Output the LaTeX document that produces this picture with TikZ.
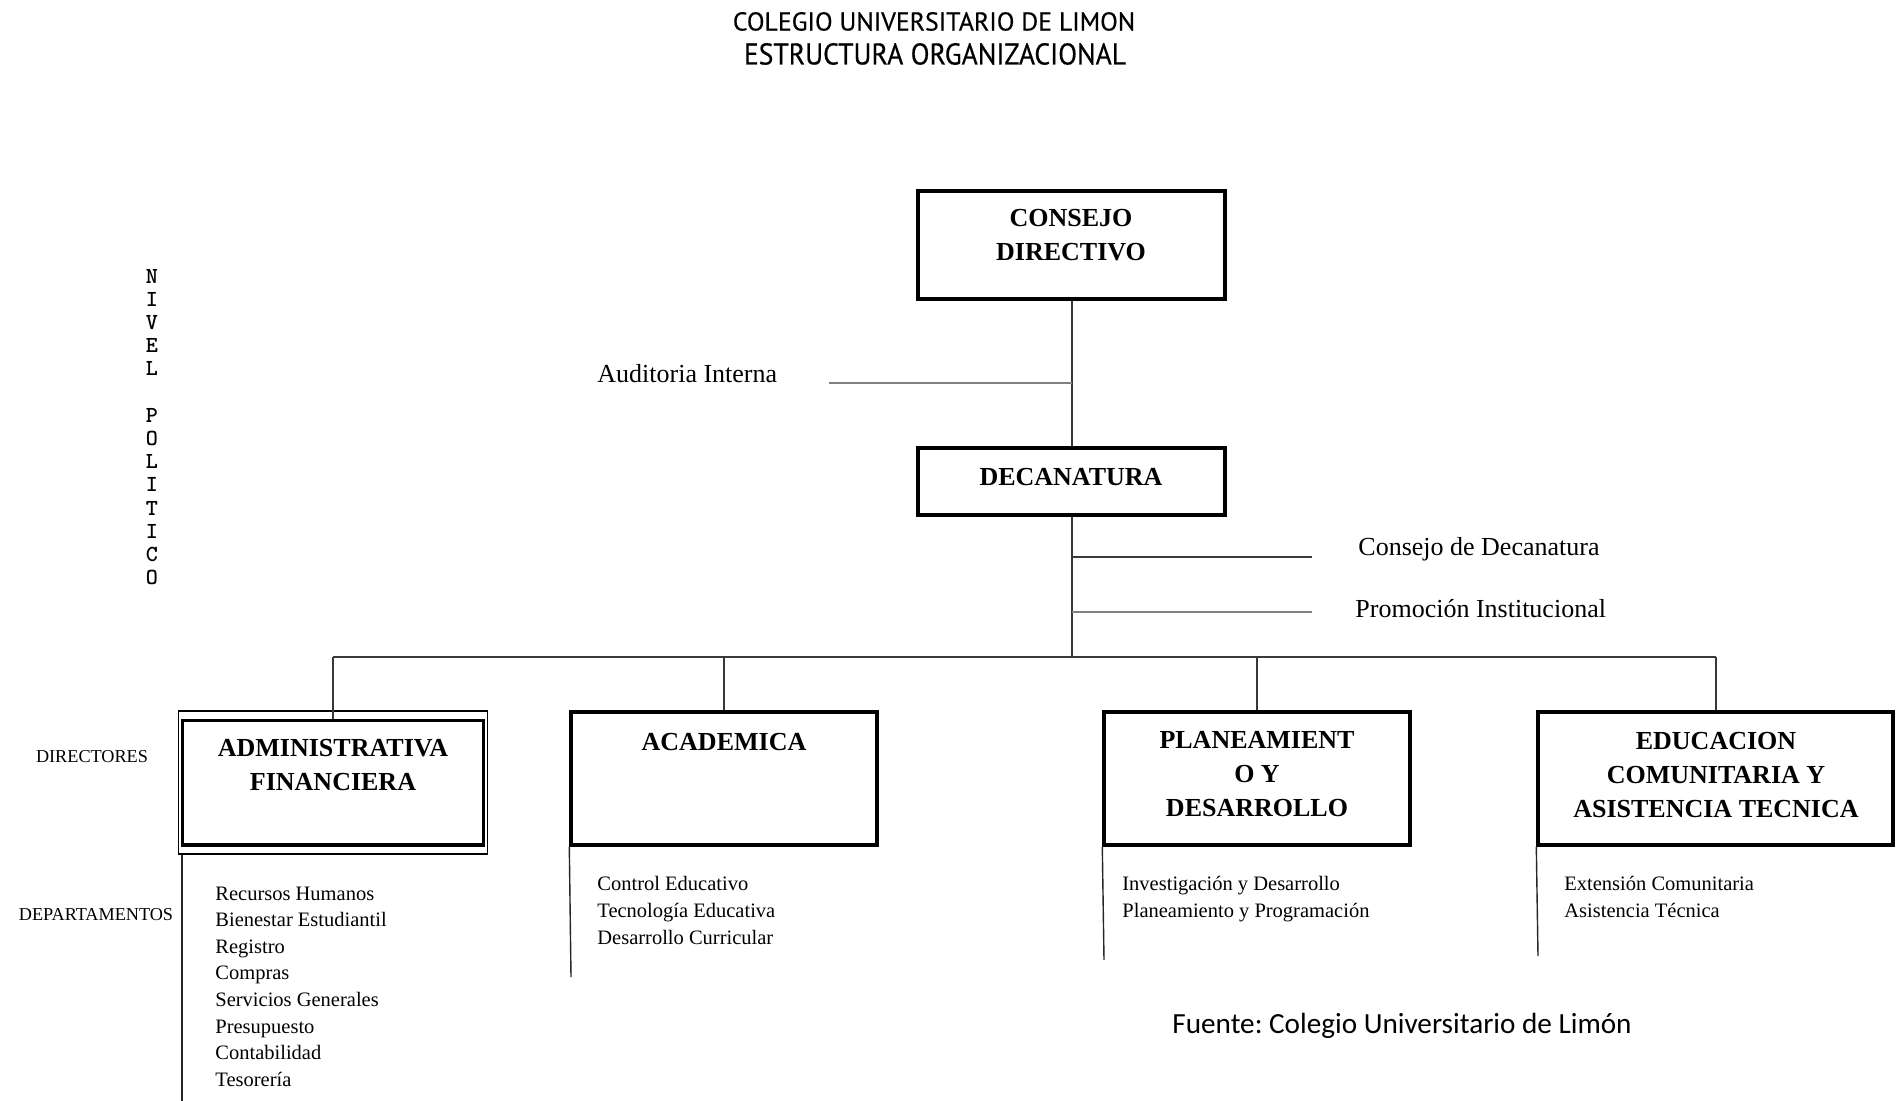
\documentclass[tikz,border=0pt]{standalone}
\usepackage{fontspec}
\setmainfont{Liberation Serif}
\newfontfamily\titlefont[FakeBold=0.4]{PT Sans}
\newfontfamily\titlefontB[FakeStretch=0.92,FakeBold=0.4]{PT Sans}
\newfontfamily\fuentefont{Carlito}
\usetikzlibrary{fit}
\begin{document}
\begin{tikzpicture}[x=0.5pt,y=-0.5pt,
  box/.style={draw=black, line width=1.7pt, inner sep=0pt},
  boxtext/.style={font=\fontsize{13}{17}\selectfont\bfseries, align=center, inner sep=0pt},
  conn/.style={draw=black!78, line width=1pt},
  lightconn/.style={draw=black!50, line width=1.3pt},
  deptline/.style={draw=black!85, line width=0.7pt},
  dept/.style={font=\fontsize{10.25}{13.3}\selectfont, anchor=base west, inner sep=0pt},
  side/.style={font=\fontsize{13}{16}\selectfont, anchor=base west, inner sep=0pt},
  lvl/.style={font=\fontsize{9.1}{10}\selectfont, inner sep=0pt}]
\useasboundingbox (0,0) rectangle (1900,1101);

% titles
\node[font=\titlefont\fontsize{12.9}{14}\selectfont, inner sep=0pt] (t1) at (934,21.5) {COLEGIO UNIVERSITARIO DE LIMON};
\node[font=\titlefontB\fontsize{15}{18}\selectfont, inner sep=0pt] (t2) at (935,54) {ESTRUCTURA ORGANIZACIONAL};

% side labels
\node[font=\ttfamily\bfseries\fontsize{11.5}{11.6}\selectfont, align=center, inner sep=0pt] (nivel) at (152,427) {N\\I\\V\\E\\L\\~\\P\\O\\L\\I\\T\\I\\C\\O};
\node[lvl] (directores) at (92,757) {DIRECTORES};
\node[lvl] (departamentos) at (96,915) {DEPARTAMENTOS};

% boxes
\node[box, fit={(918,191) (1225,299)}] (cd) {};
\node[boxtext] (cdt) at (1071,235) {CONSEJO\\DIRECTIVO};
\node[box, fit={(918,448) (1225,515)}] (dec) {};
\node[boxtext] (dect) at (1071,477) {DECANATURA};

\node[box, line width=0.8pt, fit={(178.5,711) (487.5,854)}] (adm) {};
\node[box, line width=1.7pt, fit={(182.5,720.5) (483.5,845)}] (admi) {};
\node[boxtext] (admt) at (333,765.5) {ADMINISTRATIVA\\FINANCIERA};

\node[box, fit={(571,712) (877,845)}] (aca) {};
\node[boxtext] (acat) at (724,742) {ACADEMICA};

\node[box, fit={(1104,712) (1410,845)}] (pla) {};
\node[boxtext] (plat) at (1257,774) {PLANEAMIENT\\O Y\\DESARROLLO};

\node[box, fit={(1538,712) (1893,845)}] (edu) {};
\node[boxtext] (edut) at (1716,775) {EDUCACION\\COMUNITARIA Y\\ASISTENCIA TECNICA};

% staff texts
\node[side] (aud) at (597,383) {Auditoria Interna};
\node[side] (cdec) at (1358,555) {Consejo de Decanatura};
\node[side] (prom) at (1355,617) {Promoción Institucional};

% connectors
\draw[conn] (cd.south) -- (dec.north);
\coordinate (audend) at (829,383);
\draw[lightconn] (audend) -- (audend -| cd.south);

\coordinate (busY) at (0,657);
\draw[conn] (dec.south) -- (dec.south |- busY);
\coordinate (cdecend) at (1312,557);
\draw[conn] (cdecend -| dec.south) -- (cdecend);
\coordinate (promend) at (1312,612);
\draw[lightconn] (promend -| dec.south) -- (promend);

\draw[conn] (admi.north |- busY) -- (edu.north |- busY);
\foreach \n in {admi,aca,pla,edu} \draw[conn] (\n.north |- busY) -- (\n.north);

% department lines
\coordinate (admend) at (182,1101);
\draw[deptline] (admend |- adm.south) -- (admend);
\coordinate (acaend) at (571,977);
\draw[deptline] (aca.south west) -- (acaend);
\coordinate (plaend) at (1104,960);
\draw[deptline] (pla.south west) -- (plaend);
\coordinate (eduend) at (1538,956);
\draw[deptline] (edu.south west) -- (eduend);

% department lists
\foreach \t [count=\i from 0] in {Recursos Humanos, Bienestar Estudiantil, Registro, Compras, Servicios Generales, Presupuesto, Contabilidad, Tesorería}
  \node[dept] (admd\i) at (215,{900+26.6*\i}) {\t};
\foreach \t [count=\i from 0] in {Control Educativo, Tecnología Educativa, Desarrollo Curricular}
  \node[dept] (acad\i) at (597,{890+27*\i}) {\t};
\foreach \t [count=\i from 0] in {Investigación y Desarrollo, Planeamiento y Programación}
  \node[dept] (plad\i) at (1122,{890+27*\i}) {\t};
\foreach \t [count=\i from 0] in {Extensión Comunitaria, Asistencia Técnica}
  \node[dept] (edud\i) at (1564,{890+27*\i}) {\t};

% source
\node[font=\fuentefont\fontsize{14.6}{17}\selectfont\frenchspacing, anchor=base west, inner sep=0pt] (fuente) at (1172,1033) {Fuente: Colegio Universitario de Limón};
\end{tikzpicture}
\end{document}
